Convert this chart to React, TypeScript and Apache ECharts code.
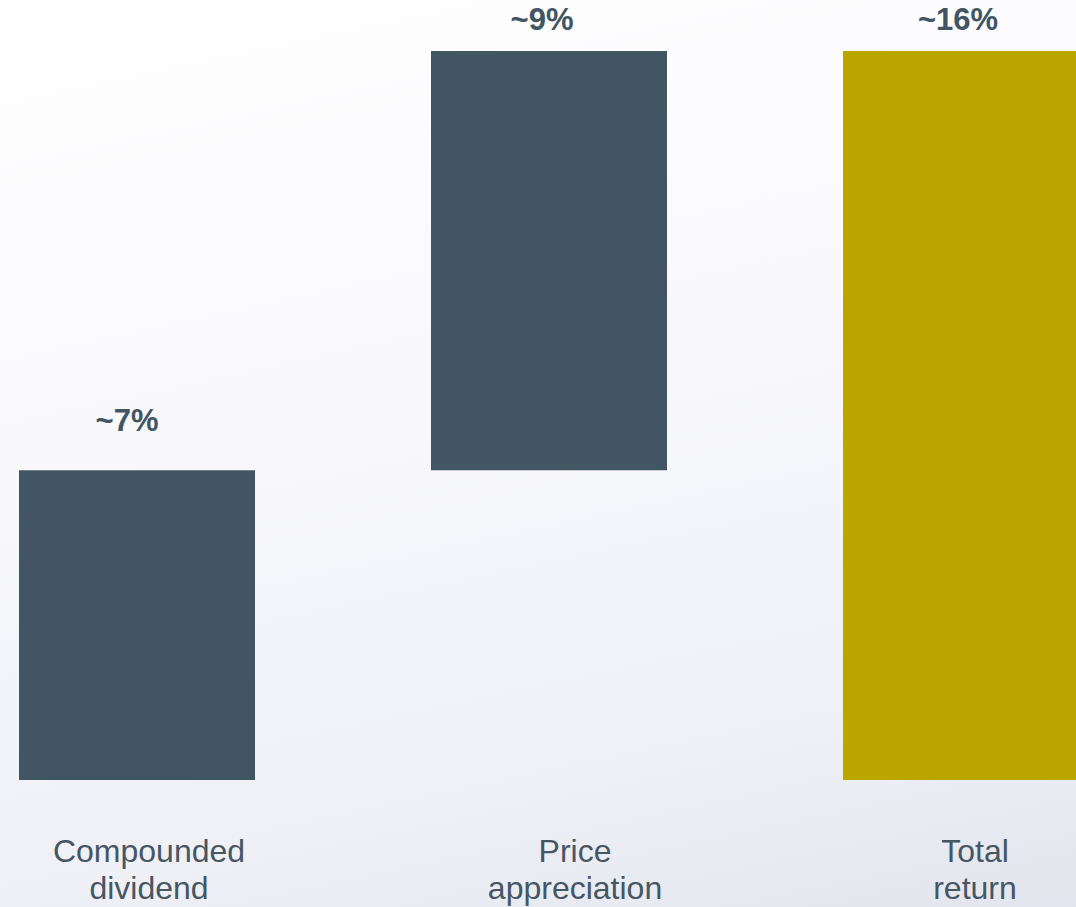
import React, { useEffect, useRef } from "react";
import * as echarts from "echarts";

const categories = ["Compounded\ndividend", "Price\nappreciation", "Total\nreturn"];
const baseValues = [0, 6.8, 0];
const stepValues = [6.8, 9.2, 16];
const valueLabels = ["~7%", "~9%", "~16%"];
const barColors = ["#425563", "#425563", "#BBA600"];

// layout tweaks (not data)
const labelDistances = [34, 16, 16];
const labelOffsetsX = [-10, -7, -3];
const catShift = [24, 52, 28];

export default function App() {
  const ref = useRef<HTMLDivElement>(null);
  useEffect(() => {
    if (!ref.current) return;
    const chart = echarts.init(ref.current, undefined, { renderer: "svg" });
    const rich: any = {};
    catShift.forEach((s, i) => {
      rich["c" + i] = {
        fontFamily: "Liberation Sans, Arial, sans-serif",
        fontSize: 32,
        lineHeight: 37,
        color: "#465663",
        padding: [0, 0, 0, s],
      };
    });
    chart.setOption({
      animation: false,
      grid: { left: 0, right: 0, top: 51, bottom: 127, containLabel: false },
      xAxis: {
        type: "category",
        data: categories,
        axisLine: { show: false },
        axisTick: { show: false },
        splitLine: { show: false },
        axisLabel: {
          interval: 0,
          margin: 52,
          formatter: (v: string) => {
            const i = categories.indexOf(v);
            return v
              .split("\n")
              .map((l) => `{c${i}|${l}}`)
              .join("\n");
          },
          rich,
        },
      },
      yAxis: { type: "value", min: 0, max: 16, show: false, splitLine: { show: false } },
      series: [
        {
          type: "bar",
          stack: "w",
          barWidth: 236,
          itemStyle: { color: "transparent" },
          silent: true,
          data: baseValues,
        },
        {
          type: "bar",
          stack: "w",
          barWidth: 236,
          data: stepValues.map((v, i) => ({
            value: v,
            itemStyle: { color: barColors[i] },
            label: {
              show: true,
              position: "top",
              distance: labelDistances[i],
              offset: [labelOffsetsX[i], 0],
              formatter: valueLabels[i],
              fontFamily: "Liberation Sans, Arial, sans-serif",
              fontWeight: "bold",
              fontSize: 31,
              color: "#425563",
            },
          })),
        },
      ],
    });
    return () => chart.dispose();
  }, []);
  return (
    <div
      style={{
        position: "fixed",
        left: 0,
        top: 0,
        width: 1076,
        height: 907,
        overflow: "hidden",
        background: "linear-gradient(168deg, #ffffff 0%, #f8f8fc 45%, #eef0f6 80%, #e2e5ed 100%)",
      }}
    >
      <div ref={ref} style={{ position: "absolute", left: -69, top: 0, width: 1236, height: 907 }} />
    </div>
  );
}
